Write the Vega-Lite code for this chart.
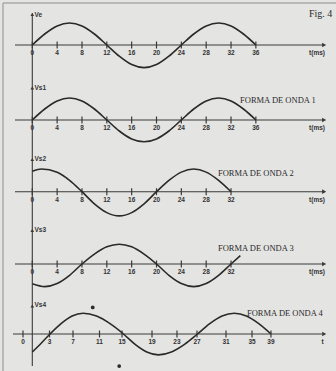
{
  "$schema": "https://vega.github.io/schema/vega-lite/v6.json",
  "background": "#e4e4e2",
  "padding": 0,
  "spacing": 0,
  "bounds": "flush",
  "config": {"view": {"stroke": null}},
  "datasets": {
    "wave": [
      {"p":1,"t":0,"v":0},{"p":1,"t":2,"v":0.5},{"p":1,"t":4,"v":0.866},{"p":1,"t":6,"v":1},{"p":1,"t":8,"v":0.866},{"p":1,"t":10,"v":0.5},{"p":1,"t":12,"v":0},{"p":1,"t":14,"v":-0.51},{"p":1,"t":16,"v":-0.89},{"p":1,"t":18,"v":-1.03},{"p":1,"t":20,"v":-0.89},{"p":1,"t":22,"v":-0.51},{"p":1,"t":24,"v":0},{"p":1,"t":26,"v":0.5},{"p":1,"t":28,"v":0.866},{"p":1,"t":30,"v":1},{"p":1,"t":32,"v":0.866},{"p":1,"t":34,"v":0.5},{"p":1,"t":36,"v":0},
      {"p":2,"t":0,"v":0},{"p":2,"t":2,"v":0.5},{"p":2,"t":4,"v":0.866},{"p":2,"t":6,"v":1},{"p":2,"t":8,"v":0.866},{"p":2,"t":10,"v":0.5},{"p":2,"t":12,"v":0},{"p":2,"t":14,"v":-0.5},{"p":2,"t":16,"v":-0.86},{"p":2,"t":18,"v":-0.99},{"p":2,"t":20,"v":-0.86},{"p":2,"t":22,"v":-0.5},{"p":2,"t":24,"v":0},{"p":2,"t":26,"v":0.5},{"p":2,"t":28,"v":0.866},{"p":2,"t":30,"v":1},{"p":2,"t":32,"v":0.866},{"p":2,"t":34,"v":0.5},{"p":2,"t":36,"v":0},
      {"p":3,"t":0,"v":0.93},{"p":3,"t":1.5,"v":1.03},{"p":3,"t":4,"v":0.88},{"p":3,"t":6,"v":0.515},{"p":3,"t":8,"v":0},{"p":3,"t":10,"v":-0.55},{"p":3,"t":12,"v":-0.95},{"p":3,"t":14,"v":-1.1},{"p":3,"t":16,"v":-0.95},{"p":3,"t":18,"v":-0.55},{"p":3,"t":20,"v":0},{"p":3,"t":22,"v":0.515},{"p":3,"t":24,"v":0.89},{"p":3,"t":26,"v":1.03},{"p":3,"t":28,"v":0.89},{"p":3,"t":30,"v":0.515},{"p":3,"t":32,"v":0},
      {"p":4,"t":0,"v":-0.9},{"p":4,"t":2,"v":-1.03},{"p":4,"t":4,"v":-0.89},{"p":4,"t":6,"v":-0.515},{"p":4,"t":8,"v":0},{"p":4,"t":10,"v":0.45},{"p":4,"t":12,"v":0.78},{"p":4,"t":14,"v":0.9},{"p":4,"t":16,"v":0.78},{"p":4,"t":18,"v":0.45},{"p":4,"t":20,"v":0},{"p":4,"t":22,"v":-0.515},{"p":4,"t":24,"v":-0.89},{"p":4,"t":26,"v":-1.03},{"p":4,"t":28,"v":-0.89},{"p":4,"t":30,"v":-0.515},{"p":4,"t":32,"v":0},{"p":4,"t":33.5,"v":0.38},
      {"p":5,"t":0,"v":-0.82},{"p":5,"t":1.45,"v":-0.42},{"p":5,"t":2.9,"v":0},{"p":5,"t":4.7,"v":0.47},{"p":5,"t":6.5,"v":0.815},{"p":5,"t":8.3,"v":0.94},{"p":5,"t":10.5,"v":0.815},{"p":5,"t":12.7,"v":0.47},{"p":5,"t":14.9,"v":0},{"p":5,"t":16.8,"v":-0.475},{"p":5,"t":18.7,"v":-0.82},{"p":5,"t":20.6,"v":-0.95},{"p":5,"t":22.73,"v":-0.82},{"p":5,"t":24.87,"v":-0.475},{"p":5,"t":27,"v":0},{"p":5,"t":29,"v":0.47},{"p":5,"t":31,"v":0.815},{"p":5,"t":33,"v":0.94},{"p":5,"t":35,"v":0.815},{"p":5,"t":37,"v":0.47},{"p":5,"t":39,"v":0}
    ],
    "ticks": [
      {"p":1,"t":0,"v":0,"label":"0"},{"p":1,"t":4,"v":0,"label":"4"},{"p":1,"t":8,"v":0,"label":"8"},{"p":1,"t":12,"v":0,"label":"12"},{"p":1,"t":16,"v":0,"label":"16"},{"p":1,"t":20,"v":0,"label":"20"},{"p":1,"t":24,"v":0,"label":"24"},{"p":1,"t":28,"v":0,"label":"28"},{"p":1,"t":32,"v":0,"label":"32"},{"p":1,"t":36,"v":0,"label":"36"},
      {"p":2,"t":0,"v":0,"label":"0"},{"p":2,"t":4,"v":0,"label":"4"},{"p":2,"t":8,"v":0,"label":"8"},{"p":2,"t":12,"v":0,"label":"12"},{"p":2,"t":16,"v":0,"label":"16"},{"p":2,"t":20,"v":0,"label":"20"},{"p":2,"t":24,"v":0,"label":"24"},{"p":2,"t":28,"v":0,"label":"28"},{"p":2,"t":32,"v":0,"label":"32"},{"p":2,"t":36,"v":0,"label":"36"},
      {"p":3,"t":0,"v":0,"label":"0"},{"p":3,"t":4,"v":0,"label":"4"},{"p":3,"t":8,"v":0,"label":"8"},{"p":3,"t":12,"v":0,"label":"12"},{"p":3,"t":16,"v":0,"label":"16"},{"p":3,"t":20,"v":0,"label":"20"},{"p":3,"t":24,"v":0,"label":"24"},{"p":3,"t":28,"v":0,"label":"28"},{"p":3,"t":32,"v":0,"label":"32"},
      {"p":4,"t":0,"v":0,"label":"0"},{"p":4,"t":4,"v":0,"label":"4"},{"p":4,"t":8,"v":0,"label":"8"},{"p":4,"t":12,"v":0,"label":"12"},{"p":4,"t":16,"v":0,"label":"16"},{"p":4,"t":20,"v":0,"label":"20"},{"p":4,"t":24,"v":0,"label":"24"},{"p":4,"t":28,"v":0,"label":"28"},{"p":4,"t":32,"v":0,"label":"32"},
      {"p":5,"t":-1.52,"v":0,"label":"0"},{"p":5,"t":2.81,"v":0,"label":"3"},{"p":5,"t":6.65,"v":0,"label":"7"},{"p":5,"t":10.98,"v":0,"label":"11"},{"p":5,"t":14.66,"v":0,"label":"15"},{"p":5,"t":19.56,"v":0,"label":"19"},{"p":5,"t":23.64,"v":0,"label":"23"},{"p":5,"t":26.91,"v":0,"label":"27"},{"p":5,"t":31.65,"v":0,"label":"31"},{"p":5,"t":35.9,"v":0,"label":"35"},{"p":5,"t":39.0,"v":0,"label":"39"}
    ],
    "units": [
      {"p":1,"t":45.85,"v":0,"label":"t(ms)"},{"p":2,"t":45.85,"v":0,"label":"t(ms)"},{"p":3,"t":45.85,"v":0,"label":"t(ms)"},{"p":4,"t":45.85,"v":0,"label":"t(ms)"},{"p":5,"t":47.45,"v":0,"label":"t"}
    ],
    "frame": [
      {"p":1,"t":-4.718,"t2":-4.718,"v":1.909,"v2":-1.682},
      {"p":1,"t":-4.718,"t2":48.905,"v":1.909,"v2":1.909},
      {"p":2,"t":-4.718,"t2":-4.718,"v":1.727,"v2":-1.636},
      {"p":3,"t":-4.718,"t2":-4.718,"v":1.623,"v2":-1.65},
      {"p":4,"t":-4.718,"t2":-4.718,"v":1.636,"v2":-1.591},
      {"p":5,"t":-4.788,"t2":-4.788,"v":1.591,"v2":-1.682}
    ],
    "axislines": [
      {"p":1,"t":-2.79,"t2":46.8,"v":0,"v2":0},{"p":1,"t":0,"t2":0,"v":1.455,"v2":-1.682},
      {"p":2,"t":-2.79,"t2":46.8,"v":0,"v2":0},{"p":2,"t":0,"t2":0,"v":1.727,"v2":-1.636},
      {"p":3,"t":-2.79,"t2":46.8,"v":0,"v2":0},{"p":3,"t":0,"t2":0,"v":1.623,"v2":-1.65},
      {"p":4,"t":-2.79,"t2":46.8,"v":0,"v2":0},{"p":4,"t":0,"t2":0,"v":1.636,"v2":-1.591},
      {"p":5,"t":-3.15,"t2":47.4,"v":0,"v2":0},{"p":5,"t":0,"t2":0,"v":1.591,"v2":-1.455}
    ],
    "xarrows": [
      {"p":1,"t":47.0,"v":0},{"p":2,"t":47.0,"v":0},{"p":3,"t":47.0,"v":0},{"p":4,"t":47.0,"v":0},{"p":5,"t":47.7,"v":0}
    ],
    "yarrows": [
      {"p":1,"t":0,"v":1.386},{"p":2,"t":0,"v":1.455},{"p":3,"t":0,"v":1.464},{"p":4,"t":0,"v":1.523},{"p":5,"t":0,"v":1.273}
    ],
    "ylabels": [
      {"p":1,"t":0.35,"v":1.364,"label":"Ve"},{"p":2,"t":0.35,"v":1.44,"label":"Vs1"},{"p":3,"t":0.35,"v":1.486,"label":"Vs2"},{"p":4,"t":0.35,"v":1.545,"label":"Vs3"},{"p":5,"t":0.35,"v":1.318,"label":"Vs4"}
    ],
    "captions": [
      {"p":2,"t":33.45,"v":0.91,"label":"FORMA DE ONDA 1"},{"p":3,"t":29.9,"v":0.85,"label":"FORMA DE ONDA 2"},{"p":4,"t":29.9,"v":0.727,"label":"FORMA DE ONDA 3"},{"p":5,"t":35.08,"v":0.97,"label":"FORMA DE ONDA 4"}
    ],
    "fig": [{"p":1,"t":44.56,"v":1.41,"label":"Fig. 4"}],
    "dots": [{"p":5,"t":9.87,"v":1.21},{"p":5,"t":14.2,"v":-1.455}]
  },
  "vconcat": [
    {
      "width": 336, "height": 82,
      "encoding": {
        "x": {"field": "t", "type": "quantitative", "scale": {"domain": [-5.201, 48.905], "nice": false, "zero": false}, "axis": null},
        "y": {"field": "v", "type": "quantitative", "scale": {"domain": [-1.682, 2.045], "nice": false, "zero": false}, "axis": null}
      },
      "layer": [
        {"data": {"name": "frame"}, "transform": [{"filter": "datum.p == 1"}], "mark": {"type": "rule", "color": "#8e8e8c", "strokeWidth": 1}, "encoding": {"x2": {"field": "t2"}, "y2": {"field": "v2"}}},
        {"data": {"name": "axislines"}, "transform": [{"filter": "datum.p == 1"}], "mark": {"type": "rule", "color": "#3a3a3a", "strokeWidth": 1.1}, "encoding": {"x2": {"field": "t2"}, "y2": {"field": "v2"}}},
        {"data": {"name": "ticks"}, "transform": [{"filter": "datum.p == 1"}], "mark": {"type": "tick", "orient": "vertical", "size": 7, "thickness": 1.2, "color": "#3a3a3a", "opacity": 1}, "encoding": {}},
        {"data": {"name": "ticks"}, "transform": [{"filter": "datum.p == 1"}], "mark": {"type": "text", "font": "Liberation Sans", "fontWeight": "bold", "fontSize": 6.5, "color": "#333", "dy": 8}, "encoding": {"text": {"field": "label"}}},
        {"data": {"name": "units"}, "transform": [{"filter": "datum.p == 1"}], "mark": {"type": "text", "font": "Liberation Sans", "fontWeight": "bold", "fontSize": 6.5, "color": "#333", "dy": 8}, "encoding": {"text": {"field": "label"}}},
        {"data": {"name": "wave"}, "transform": [{"filter": "datum.p == 1"}], "mark": {"type": "line", "color": "#2a2a2a", "strokeWidth": 1.6, "interpolate": "monotone"}, "encoding": {}},
        {"data": {"name": "xarrows"}, "transform": [{"filter": "datum.p == 1"}], "mark": {"type": "point", "shape": "triangle-right", "filled": true, "size": 22, "color": "#3a3a3a", "opacity": 1}, "encoding": {}},
        {"data": {"name": "yarrows"}, "transform": [{"filter": "datum.p == 1"}], "mark": {"type": "point", "shape": "triangle-up", "filled": true, "size": 14, "color": "#3a3a3a", "opacity": 1}, "encoding": {}},
        {"data": {"name": "ylabels"}, "transform": [{"filter": "datum.p == 1"}], "mark": {"type": "text", "font": "Liberation Sans", "fontWeight": "bold", "fontSize": 6.5, "color": "#333", "align": "left"}, "encoding": {"text": {"field": "label"}}},
        {"data": {"name": "fig"}, "mark": {"type": "text", "font": "Liberation Serif", "fontSize": 10, "color": "#2a2a2a", "align": "left"}, "encoding": {"text": {"field": "label"}}}
      ]
    },
    {
      "width": 336, "height": 74,
      "encoding": {
        "x": {"field": "t", "type": "quantitative", "scale": {"domain": [-5.201, 48.905], "nice": false, "zero": false}, "axis": null},
        "y": {"field": "v", "type": "quantitative", "scale": {"domain": [-1.636, 1.727], "nice": false, "zero": false}, "axis": null}
      },
      "layer": [
        {"data": {"name": "frame"}, "transform": [{"filter": "datum.p == 2"}], "mark": {"type": "rule", "color": "#8e8e8c", "strokeWidth": 1}, "encoding": {"x2": {"field": "t2"}, "y2": {"field": "v2"}}},
        {"data": {"name": "axislines"}, "transform": [{"filter": "datum.p == 2"}], "mark": {"type": "rule", "color": "#3a3a3a", "strokeWidth": 1.1}, "encoding": {"x2": {"field": "t2"}, "y2": {"field": "v2"}}},
        {"data": {"name": "ticks"}, "transform": [{"filter": "datum.p == 2"}], "mark": {"type": "tick", "orient": "vertical", "size": 7, "thickness": 1.2, "color": "#3a3a3a", "opacity": 1}, "encoding": {}},
        {"data": {"name": "ticks"}, "transform": [{"filter": "datum.p == 2"}], "mark": {"type": "text", "font": "Liberation Sans", "fontWeight": "bold", "fontSize": 6.5, "color": "#333", "dy": 8}, "encoding": {"text": {"field": "label"}}},
        {"data": {"name": "units"}, "transform": [{"filter": "datum.p == 2"}], "mark": {"type": "text", "font": "Liberation Sans", "fontWeight": "bold", "fontSize": 6.5, "color": "#333", "dy": 8}, "encoding": {"text": {"field": "label"}}},
        {"data": {"name": "wave"}, "transform": [{"filter": "datum.p == 2"}], "mark": {"type": "line", "color": "#2a2a2a", "strokeWidth": 1.6, "interpolate": "monotone"}, "encoding": {}},
        {"data": {"name": "xarrows"}, "transform": [{"filter": "datum.p == 2"}], "mark": {"type": "point", "shape": "triangle-right", "filled": true, "size": 22, "color": "#3a3a3a", "opacity": 1}, "encoding": {}},
        {"data": {"name": "yarrows"}, "transform": [{"filter": "datum.p == 2"}], "mark": {"type": "point", "shape": "triangle-up", "filled": true, "size": 14, "color": "#3a3a3a", "opacity": 1}, "encoding": {}},
        {"data": {"name": "ylabels"}, "transform": [{"filter": "datum.p == 2"}], "mark": {"type": "text", "font": "Liberation Sans", "fontWeight": "bold", "fontSize": 6.5, "color": "#333", "align": "left"}, "encoding": {"text": {"field": "label"}}},
        {"data": {"name": "captions"}, "transform": [{"filter": "datum.p == 2"}], "mark": {"type": "text", "font": "Liberation Serif", "fontSize": 8.5, "color": "#2a2a2a", "align": "left"}, "encoding": {"text": {"field": "label"}}}
      ]
    },
    {
      "width": 336, "height": 72,
      "encoding": {
        "x": {"field": "t", "type": "quantitative", "scale": {"domain": [-5.201, 48.905], "nice": false, "zero": false}, "axis": null},
        "y": {"field": "v", "type": "quantitative", "scale": {"domain": [-1.65, 1.623], "nice": false, "zero": false}, "axis": null}
      },
      "layer": [
        {"data": {"name": "frame"}, "transform": [{"filter": "datum.p == 3"}], "mark": {"type": "rule", "color": "#8e8e8c", "strokeWidth": 1}, "encoding": {"x2": {"field": "t2"}, "y2": {"field": "v2"}}},
        {"data": {"name": "axislines"}, "transform": [{"filter": "datum.p == 3"}], "mark": {"type": "rule", "color": "#3a3a3a", "strokeWidth": 1.1}, "encoding": {"x2": {"field": "t2"}, "y2": {"field": "v2"}}},
        {"data": {"name": "ticks"}, "transform": [{"filter": "datum.p == 3"}], "mark": {"type": "tick", "orient": "vertical", "size": 7, "thickness": 1.2, "color": "#3a3a3a", "opacity": 1}, "encoding": {}},
        {"data": {"name": "ticks"}, "transform": [{"filter": "datum.p == 3"}], "mark": {"type": "text", "font": "Liberation Sans", "fontWeight": "bold", "fontSize": 6.5, "color": "#333", "dy": 8}, "encoding": {"text": {"field": "label"}}},
        {"data": {"name": "units"}, "transform": [{"filter": "datum.p == 3"}], "mark": {"type": "text", "font": "Liberation Sans", "fontWeight": "bold", "fontSize": 6.5, "color": "#333", "dy": 8}, "encoding": {"text": {"field": "label"}}},
        {"data": {"name": "wave"}, "transform": [{"filter": "datum.p == 3"}], "mark": {"type": "line", "color": "#2a2a2a", "strokeWidth": 1.6, "interpolate": "monotone"}, "encoding": {}},
        {"data": {"name": "xarrows"}, "transform": [{"filter": "datum.p == 3"}], "mark": {"type": "point", "shape": "triangle-right", "filled": true, "size": 22, "color": "#3a3a3a", "opacity": 1}, "encoding": {}},
        {"data": {"name": "yarrows"}, "transform": [{"filter": "datum.p == 3"}], "mark": {"type": "point", "shape": "triangle-up", "filled": true, "size": 14, "color": "#3a3a3a", "opacity": 1}, "encoding": {}},
        {"data": {"name": "ylabels"}, "transform": [{"filter": "datum.p == 3"}], "mark": {"type": "text", "font": "Liberation Sans", "fontWeight": "bold", "fontSize": 6.5, "color": "#333", "align": "left"}, "encoding": {"text": {"field": "label"}}},
        {"data": {"name": "captions"}, "transform": [{"filter": "datum.p == 3"}], "mark": {"type": "text", "font": "Liberation Serif", "fontSize": 8.5, "color": "#2a2a2a", "align": "left"}, "encoding": {"text": {"field": "label"}}}
      ]
    },
    {
      "width": 336, "height": 71,
      "encoding": {
        "x": {"field": "t", "type": "quantitative", "scale": {"domain": [-5.201, 48.905], "nice": false, "zero": false}, "axis": null},
        "y": {"field": "v", "type": "quantitative", "scale": {"domain": [-1.591, 1.636], "nice": false, "zero": false}, "axis": null}
      },
      "layer": [
        {"data": {"name": "frame"}, "transform": [{"filter": "datum.p == 4"}], "mark": {"type": "rule", "color": "#8e8e8c", "strokeWidth": 1}, "encoding": {"x2": {"field": "t2"}, "y2": {"field": "v2"}}},
        {"data": {"name": "axislines"}, "transform": [{"filter": "datum.p == 4"}], "mark": {"type": "rule", "color": "#3a3a3a", "strokeWidth": 1.1}, "encoding": {"x2": {"field": "t2"}, "y2": {"field": "v2"}}},
        {"data": {"name": "ticks"}, "transform": [{"filter": "datum.p == 4"}], "mark": {"type": "tick", "orient": "vertical", "size": 7, "thickness": 1.2, "color": "#3a3a3a", "opacity": 1}, "encoding": {}},
        {"data": {"name": "ticks"}, "transform": [{"filter": "datum.p == 4"}], "mark": {"type": "text", "font": "Liberation Sans", "fontWeight": "bold", "fontSize": 6.5, "color": "#333", "dy": 8}, "encoding": {"text": {"field": "label"}}},
        {"data": {"name": "units"}, "transform": [{"filter": "datum.p == 4"}], "mark": {"type": "text", "font": "Liberation Sans", "fontWeight": "bold", "fontSize": 6.5, "color": "#333", "dy": 8}, "encoding": {"text": {"field": "label"}}},
        {"data": {"name": "wave"}, "transform": [{"filter": "datum.p == 4"}], "mark": {"type": "line", "color": "#2a2a2a", "strokeWidth": 1.6, "interpolate": "monotone"}, "encoding": {}},
        {"data": {"name": "xarrows"}, "transform": [{"filter": "datum.p == 4"}], "mark": {"type": "point", "shape": "triangle-right", "filled": true, "size": 22, "color": "#3a3a3a", "opacity": 1}, "encoding": {}},
        {"data": {"name": "yarrows"}, "transform": [{"filter": "datum.p == 4"}], "mark": {"type": "point", "shape": "triangle-up", "filled": true, "size": 14, "color": "#3a3a3a", "opacity": 1}, "encoding": {}},
        {"data": {"name": "ylabels"}, "transform": [{"filter": "datum.p == 4"}], "mark": {"type": "text", "font": "Liberation Sans", "fontWeight": "bold", "fontSize": 6.5, "color": "#333", "align": "left"}, "encoding": {"text": {"field": "label"}}},
        {"data": {"name": "captions"}, "transform": [{"filter": "datum.p == 4"}], "mark": {"type": "text", "font": "Liberation Serif", "fontSize": 8.5, "color": "#2a2a2a", "align": "left"}, "encoding": {"text": {"field": "label"}}}
      ]
    },
    {
      "width": 336, "height": 72,
      "encoding": {
        "x": {"field": "t", "type": "quantitative", "scale": {"domain": [-5.278, 49.624], "nice": false, "zero": false}, "axis": null},
        "y": {"field": "v", "type": "quantitative", "scale": {"domain": [-1.682, 1.591], "nice": false, "zero": false}, "axis": null}
      },
      "layer": [
        {"data": {"name": "frame"}, "transform": [{"filter": "datum.p == 5"}], "mark": {"type": "rule", "color": "#8e8e8c", "strokeWidth": 1}, "encoding": {"x2": {"field": "t2"}, "y2": {"field": "v2"}}},
        {"data": {"name": "axislines"}, "transform": [{"filter": "datum.p == 5"}], "mark": {"type": "rule", "color": "#3a3a3a", "strokeWidth": 1.1}, "encoding": {"x2": {"field": "t2"}, "y2": {"field": "v2"}}},
        {"data": {"name": "ticks"}, "transform": [{"filter": "datum.p == 5"}], "mark": {"type": "tick", "orient": "vertical", "size": 7, "thickness": 1.2, "color": "#3a3a3a", "opacity": 1}, "encoding": {}},
        {"data": {"name": "ticks"}, "transform": [{"filter": "datum.p == 5"}], "mark": {"type": "text", "font": "Liberation Sans", "fontWeight": "bold", "fontSize": 6.5, "color": "#333", "dy": 8}, "encoding": {"text": {"field": "label"}}},
        {"data": {"name": "units"}, "transform": [{"filter": "datum.p == 5"}], "mark": {"type": "text", "font": "Liberation Sans", "fontWeight": "bold", "fontSize": 6.5, "color": "#333", "dy": 8}, "encoding": {"text": {"field": "label"}}},
        {"data": {"name": "wave"}, "transform": [{"filter": "datum.p == 5"}], "mark": {"type": "line", "color": "#2a2a2a", "strokeWidth": 1.6, "interpolate": "monotone"}, "encoding": {}},
        {"data": {"name": "xarrows"}, "transform": [{"filter": "datum.p == 5"}], "mark": {"type": "point", "shape": "triangle-right", "filled": true, "size": 22, "color": "#3a3a3a", "opacity": 1}, "encoding": {}},
        {"data": {"name": "yarrows"}, "transform": [{"filter": "datum.p == 5"}], "mark": {"type": "point", "shape": "triangle-up", "filled": true, "size": 14, "color": "#3a3a3a", "opacity": 1}, "encoding": {}},
        {"data": {"name": "ylabels"}, "transform": [{"filter": "datum.p == 5"}], "mark": {"type": "text", "font": "Liberation Sans", "fontWeight": "bold", "fontSize": 6.5, "color": "#333", "align": "left"}, "encoding": {"text": {"field": "label"}}},
        {"data": {"name": "captions"}, "transform": [{"filter": "datum.p == 5"}], "mark": {"type": "text", "font": "Liberation Serif", "fontSize": 8.5, "color": "#2a2a2a", "align": "left"}, "encoding": {"text": {"field": "label"}}},
        {"data": {"name": "dots"}, "mark": {"type": "point", "shape": "circle", "filled": true, "size": 14, "color": "#2a2a2a", "opacity": 1}, "encoding": {}}
      ]
    }
  ]
}
